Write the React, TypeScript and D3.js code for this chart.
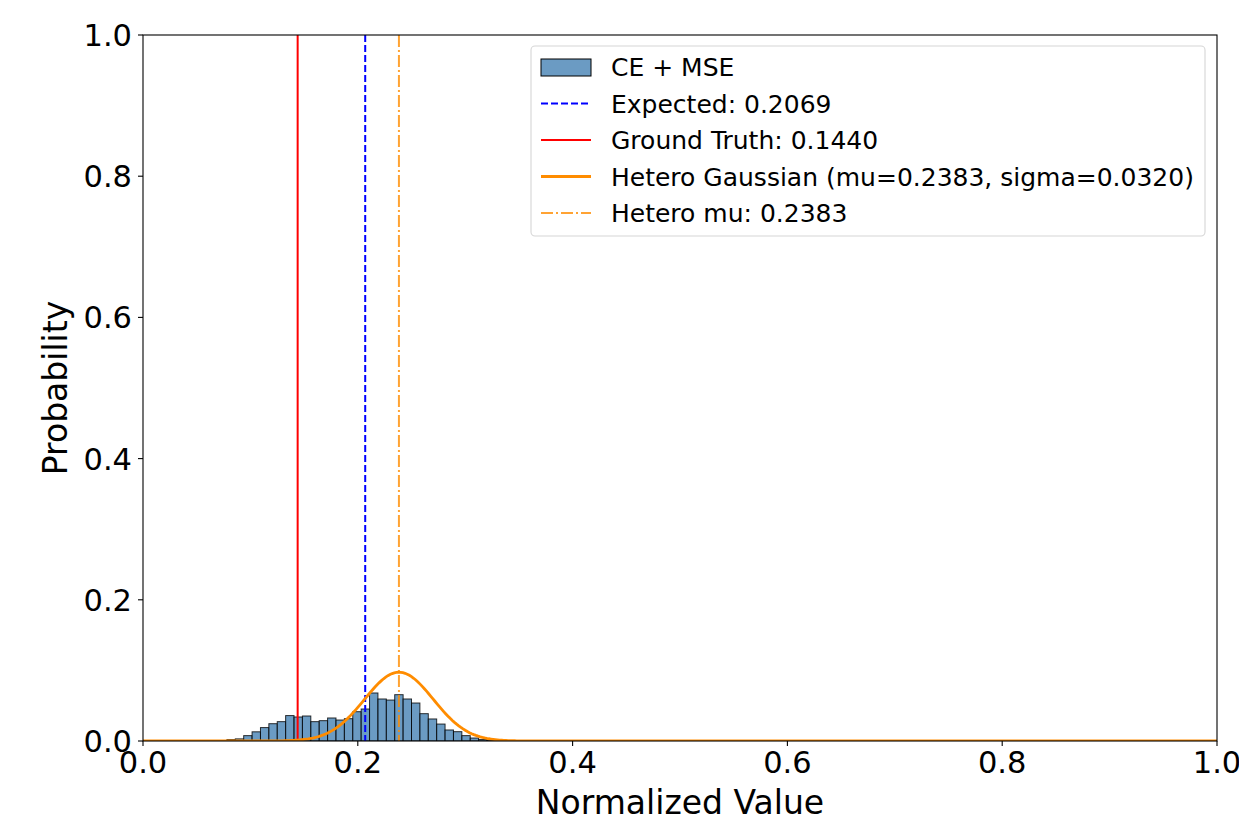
import * as d3 from 'd3';

// histogram: 128 bins over [0, 1], probability per bin
const BIN_COUNT = 128;
const binStart = 10;
const binValues = [
  0.002, 0.003, 0.0076, 0.013, 0.019, 0.0245, 0.0274, 0.036, 0.034, 0.0354,
  0.0274, 0.0288, 0.0326, 0.0297, 0.0316, 0.0415, 0.0453, 0.068, 0.0595, 0.058,
  0.0656, 0.0595, 0.0538, 0.0387, 0.0312, 0.024, 0.0156, 0.0132, 0.0076, 0.0042,
  0.002, 0.001, 0.0005,
];

const expected = 0.2069;
const groundTruth = 0.144;
const heteroMu = 0.2383;
const heteroSigma = 0.032;

const xTicks = [0, 0.2, 0.4, 0.6, 0.8, 1.0];
const yTicks = [0, 0.2, 0.4, 0.6, 0.8, 1.0];

const legendLabels = [
  'CE + MSE',
  `Expected: ${expected.toFixed(4)}`,
  `Ground Truth: ${groundTruth.toFixed(4)}`,
  `Hetero Gaussian (mu=${heteroMu.toFixed(4)}, sigma=${heteroSigma.toFixed(4)})`,
  `Hetero mu: ${heteroMu.toFixed(4)}`,
];

const W = 1239;
const H = 835;
const m = { left: 143, right: 1217, top: 35, bottom: 741 };
const font = 'DejaVu Sans, sans-serif';

export default function App() {
  const x = d3.scaleLinear().domain([0, 1]).range([m.left, m.right]);
  const y = d3.scaleLinear().domain([0, 1]).range([m.bottom, m.top]);
  const bw = 1 / BIN_COUNT;

  // Gaussian density scaled to the bin width so it sits on the histogram
  const gx = d3.range(0, 1.0001, 0.002);
  const gauss = (v: number) =>
    (Math.exp(-0.5 * ((v - heteroMu) / heteroSigma) ** 2) / (heteroSigma * Math.sqrt(2 * Math.PI))) * bw;
  const line = d3.line<number>().x(v => x(v)).y(v => y(gauss(v)));

  const legendX = 531;
  const legendY = 46;
  const rowH = 36.5;

  return (
    <svg width={W} height={H} style={{ position: 'absolute', left: 0, top: 0, background: '#fff' }}>
      <defs>
        <clipPath id="plot">
          <rect x={m.left} y={m.top} width={m.right - m.left} height={m.bottom - m.top} />
        </clipPath>
      </defs>
      <g clipPath="url(#plot)">
        {binValues.map((v, i) => {
          const x0 = (binStart + i) * bw;
          return (
            <rect key={i} x={x(x0)} y={y(v)} width={x(x0 + bw) - x(x0)} height={y(0) - y(v)}
              fill="#4682b4" fillOpacity={0.8} stroke="#000" strokeOpacity={0.8} strokeWidth={1} />
          );
        })}
        <line x1={x(expected)} x2={x(expected)} y1={m.top} y2={m.bottom} stroke="#0000ff" strokeWidth={2} strokeDasharray="7,3" />
        <line x1={x(groundTruth)} x2={x(groundTruth)} y1={m.top} y2={m.bottom} stroke="#ff0000" strokeWidth={2} />
        <path d={line(gx) ?? ''} fill="none" stroke="#ff8c00" strokeWidth={2.8} />
        <line x1={x(heteroMu)} x2={x(heteroMu)} y1={m.top} y2={m.bottom} stroke="#ff8c00" strokeOpacity={0.8} strokeWidth={2} strokeDasharray="12,3,2,3" />
      </g>

      <rect x={m.left} y={m.top} width={m.right - m.left} height={m.bottom - m.top} fill="none" stroke="#000" strokeWidth={1.1} />

      {xTicks.map(t => (
        <g key={'x' + t}>
          <line x1={x(t)} x2={x(t)} y1={m.bottom} y2={m.bottom + 5} stroke="#000" strokeWidth={1.1} />
          <text x={x(t)} y={m.bottom + 32} textAnchor="middle" fontFamily={font} fontSize={30.5}>{t.toFixed(1)}</text>
        </g>
      ))}
      {yTicks.map(t => (
        <g key={'y' + t}>
          <line x1={m.left - 5} x2={m.left} y1={y(t)} y2={y(t)} stroke="#000" strokeWidth={1.1} />
          <text x={m.left - 11} y={y(t) + 11} textAnchor="end" fontFamily={font} fontSize={30.5}>{t.toFixed(1)}</text>
        </g>
      ))}

      <text x={(m.left + m.right) / 2} y={814} textAnchor="middle" fontFamily={font} fontSize={33}>Normalized Value</text>
      <text transform={`translate(67,${(m.top + m.bottom) / 2}) rotate(-90)`} textAnchor="middle" fontFamily={font} fontSize={33}>Probability</text>

      <g>
        <rect x={legendX} y={legendY} width={674} height={190} rx={4} fill="#fff" fillOpacity={0.8} stroke="#d6d6d6" strokeWidth={1.1} />
        {legendLabels.map((label, i) => {
          const cy = legendY + 21 + i * rowH;
          const hx0 = legendX + 10;
          const hx1 = legendX + 60;
          let handle;
          if (i === 0) handle = <rect x={hx0} y={cy - 8} width={50} height={17} fill="#4682b4" fillOpacity={0.8} stroke="#000" strokeWidth={1} />;
          else if (i === 1) handle = <line x1={hx0} x2={hx1} y1={cy} y2={cy} stroke="#0000ff" strokeWidth={2} strokeDasharray="7,3" />;
          else if (i === 2) handle = <line x1={hx0} x2={hx1} y1={cy} y2={cy} stroke="#ff0000" strokeWidth={2} />;
          else if (i === 3) handle = <line x1={hx0} x2={hx1} y1={cy} y2={cy} stroke="#ff8c00" strokeWidth={2.8} />;
          else handle = <line x1={hx0} x2={hx1} y1={cy} y2={cy} stroke="#ff8c00" strokeOpacity={0.8} strokeWidth={2} strokeDasharray="12,3,2,3" />;
          return (
            <g key={i}>
              {handle}
              <text x={legendX + 80} y={cy + 9} fontFamily={font} fontSize={25}>{label}</text>
            </g>
          );
        })}
      </g>
    </svg>
  );
}
